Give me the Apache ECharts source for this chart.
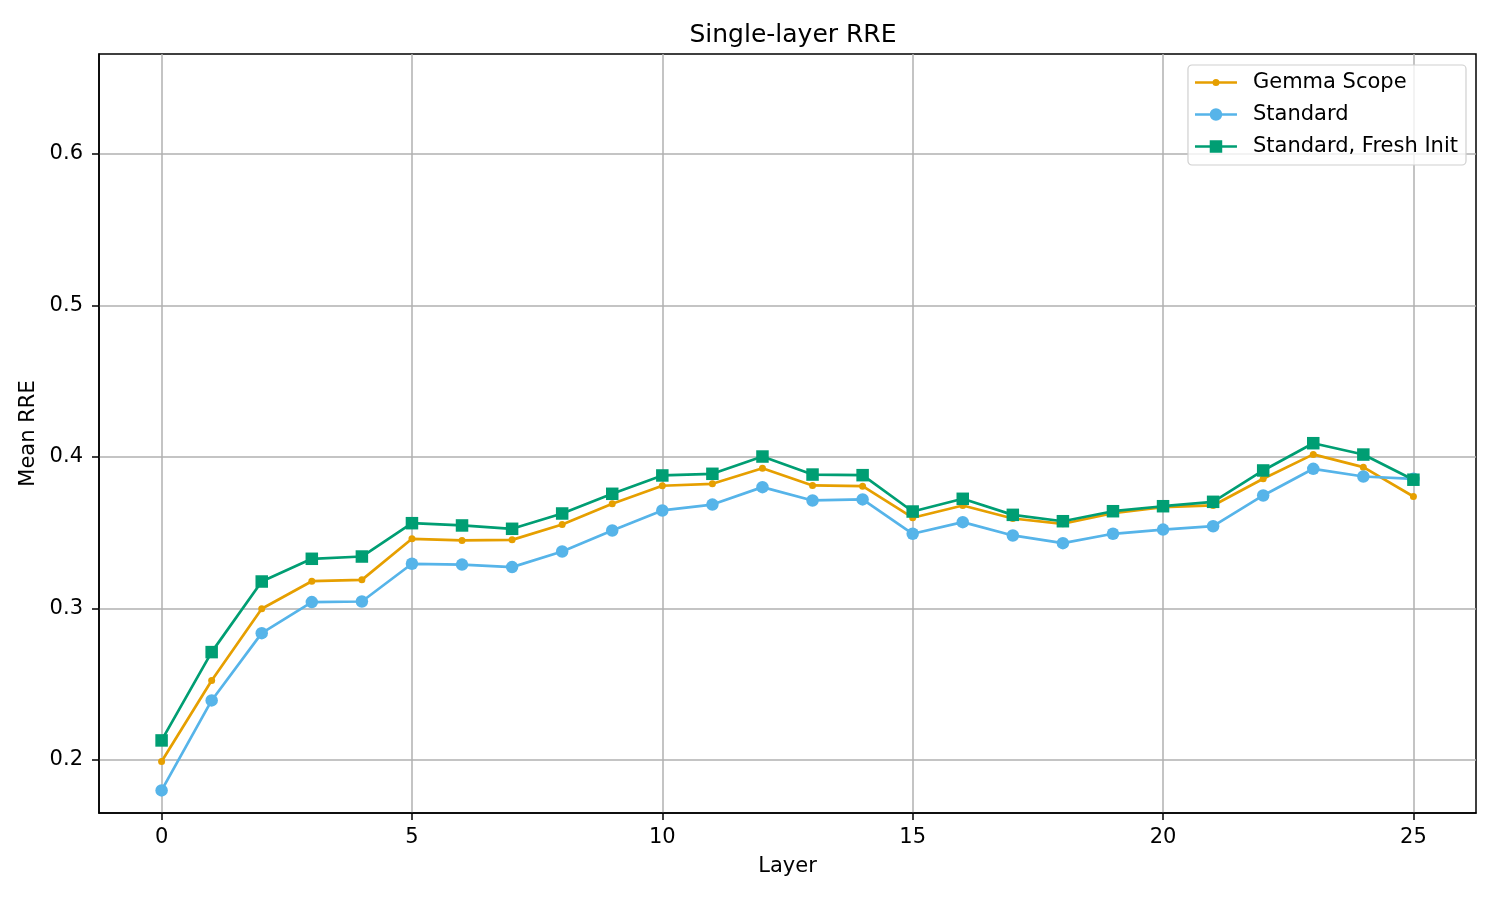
<!DOCTYPE html>
<html>
<head>
<meta charset="utf-8">
<script src="https://cdn.jsdelivr.net/npm/echarts@6/dist/echarts.min.js"></script>
<style>
html,body{margin:0;padding:0;background:#fff;}
#chart{width:1500px;height:900px;}
</style>
</head>
<body>
<div id="chart"></div>
<script>
const layers = [0,1,2,3,4,5,6,7,8,9,10,11,12,13,14,15,16,17,18,19,20,21,22,23,24,25];
const gemmaScope = [0.199,0.2525,0.2998,0.318,0.3189,0.346,0.3449,0.3453,0.3554,0.3691,0.381,0.3823,0.3926,0.3812,0.3807,0.3599,0.368,0.3594,0.3559,0.3629,0.3669,0.368,0.3856,0.4017,0.3933,0.3739];
const standard = [0.1799,0.2393,0.2837,0.3042,0.3046,0.3295,0.329,0.3273,0.3376,0.3515,0.3647,0.3686,0.3801,0.3713,0.372,0.3493,0.357,0.3482,0.3431,0.3493,0.3521,0.3543,0.3746,0.3922,0.3871,0.3856];
const freshInit = [0.2129,0.2712,0.3178,0.3328,0.3343,0.3563,0.3548,0.3526,0.3627,0.3757,0.3878,0.3889,0.4003,0.3884,0.388,0.364,0.3724,0.3618,0.3576,0.3642,0.3675,0.3704,0.3911,0.4091,0.4016,0.385];
const xTicks = [0,5,10,15,20,25];
const yTicks = [0.2,0.3,0.4,0.5,0.6];

const FONT = 'DejaVu Sans';
const chart = echarts.init(document.getElementById('chart'), null, {renderer:'canvas'});

function pairs(arr){ return layers.map((l,i)=>[l, arr[i]]); }

// legend handle icons (line + marker) in a 42x13 box
const BOX = 'M0,0 L0,0 M42,13 L42,13 ';
const LINE = 'M0,5.2 L42,5.2 L42,7.8 L0,7.8 Z ';
const iconDot = 'path://' + BOX + LINE + 'M24.5,6.5 A3.5,3.5 0 1,1 17.5,6.5 A3.5,3.5 0 1,1 24.5,6.5 Z';
const iconCircle = 'path://' + BOX + LINE + 'M27.25,6.5 A6.25,6.25 0 1,1 14.75,6.5 A6.25,6.25 0 1,1 27.25,6.5 Z';
const iconSquare = 'path://' + BOX + LINE + 'M14.75,0.25 L27.25,0.25 L27.25,12.75 L14.75,12.75 Z';

const axisCommon = {
  axisLine:{show:true, onZero:false, lineStyle:{color:'#000', width:1.5}},
  axisTick:{show:true, inside:false, length:7, lineStyle:{color:'#000', width:1.5}},
  splitLine:{show:true, lineStyle:{color:'#b0b0b0', width:1.5}},
  nameTextStyle:{fontFamily:FONT, fontSize:21, color:'#000'}
};

chart.setOption({
  animation:false,
  backgroundColor:'#fff',
  title:{
    text:'Single-layer RRE',
    left:788, top:18, textAlign:'center',
    textStyle:{fontFamily:FONT, fontSize:25, fontWeight:'normal', color:'#000'}
  },
  grid:{left:99, right:24, top:54, bottom:87, show:true, borderColor:'#000', borderWidth:1.5, containLabel:false},
  legend:{
    orient:'vertical', right:34, top:65,
    itemWidth:42, itemHeight:13, itemGap:11,
    padding:[7,8,8,7],
    borderColor:'#d0d0d0', borderWidth:1.2, borderRadius:4,
    backgroundColor:'rgba(255,255,255,0.8)',
    itemStyle:{borderWidth:0},
    textStyle:{fontFamily:FONT, fontSize:21, color:'#000', padding:[0,0,0,11]},
    data:[
      {name:'Gemma Scope', icon:iconDot},
      {name:'Standard', icon:iconCircle},
      {name:'Standard, Fresh Init', icon:iconSquare}
    ]
  },
  xAxis:Object.assign({}, axisCommon, {
    type:'value', min:-1.25, max:26.25,
    name:'Layer', nameLocation:'middle', nameGap:43,
    axisTick:Object.assign({}, axisCommon.axisTick, {customValues:xTicks}),
    axisLabel:{customValues:xTicks, margin:14, fontFamily:FONT, fontSize:21, color:'#000'}
  }),
  yAxis:Object.assign({}, axisCommon, {
    type:'value', min:0.165, max:0.666,
    name:'Mean RRE', nameLocation:'middle', nameGap:55, nameRotate:90,
    axisTick:Object.assign({}, axisCommon.axisTick, {customValues:yTicks}),
    axisLabel:{customValues:yTicks, margin:16, fontFamily:FONT, fontSize:21, color:'#000',
      formatter:v=>v.toFixed(1)}
  }),
  series:[
    {name:'Gemma Scope', type:'line', data:pairs(gemmaScope), symbol:'circle', symbolSize:7,
     showAllSymbol:true, color:'#E69F00', lineStyle:{width:2.7, color:'#E69F00'}, itemStyle:{color:'#E69F00'}},
    {name:'Standard', type:'line', data:pairs(standard), symbol:'circle', symbolSize:12.5,
     showAllSymbol:true, color:'#56B4E9', lineStyle:{width:2.7, color:'#56B4E9'}, itemStyle:{color:'#56B4E9'}},
    {name:'Standard, Fresh Init', type:'line', data:pairs(freshInit), symbol:'rect', symbolSize:12.5,
     showAllSymbol:true, color:'#009E73', lineStyle:{width:2.7, color:'#009E73'}, itemStyle:{color:'#009E73'}}
  ]
});
</script>
</body>
</html>
